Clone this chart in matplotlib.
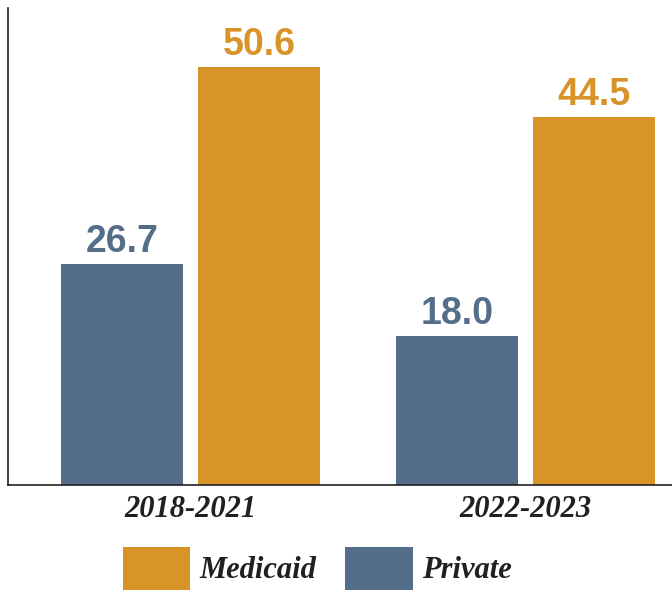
import numpy as np
import matplotlib
matplotlib.use("Agg")
import matplotlib.pyplot as plt
from matplotlib.patches import Patch

# data
periods = ["2018-2021", "2022-2023"]
private = [26.7, 18.0]
medicaid = [50.6, 44.5]

BLUE = "#546e8a"
ORANGE = "#d89428"
INK = "#231f20"

num_font = dict(family=["Liberation Sans Narrow", "Liberation Sans", "DejaVu Sans"],
                weight="bold", size=27)
serif_font = dict(family=["Liberation Serif", "DejaVu Serif"],
                  weight="bold", style="italic", size=22)

fig = plt.figure(figsize=(6.72, 5.90), dpi=100)
ax = fig.add_axes([8 / 672, 105 / 590, 664 / 672, 477 / 590])

x = np.arange(len(periods))
width = 0.364
offset = 0.2045

bars_p = ax.bar(x - offset, private, width, color=BLUE)
bars_m = ax.bar(x + offset, medicaid, width, color=ORANGE)

for bars, col in ((bars_p, BLUE), (bars_m, ORANGE)):
    ax.bar_label(bars, labels=[f"{v:.1f}" for v in bars.datavalues],
                 padding=3, color=col, **num_font)

ax.set_xlim(-0.5448, 1.4373)
ax.set_ylim(0, 57.7)

for side in ("top", "right"):
    ax.spines[side].set_visible(False)
for side in ("left", "bottom"):
    ax.spines[side].set_color(INK)
    ax.spines[side].set_linewidth(1.2)

ax.set_yticks([])
ax.set_xticks(x)
ax.set_xticklabels(periods, fontdict=serif_font, color=INK)
ax.tick_params(axis="x", length=0, pad=7)

handles = [Patch(facecolor=ORANGE, label="Medicaid"),
           Patch(facecolor=BLUE, label="Private")]
leg = fig.legend(handles=handles, loc="upper left", ncol=2, frameon=False,
                 bbox_to_anchor=(123 / 672, 1 - 547 / 590),
                 borderpad=0, borderaxespad=0,
                 handlelength=2.2, handleheight=1.8,
                 handletextpad=0.3, columnspacing=0.95,
                 prop=dict(family=["Liberation Serif", "DejaVu Serif"],
                           weight="bold", style="italic", size=22))
for t in leg.get_texts():
    t.set_color(INK)

fig.savefig("out.png", dpi=100)
